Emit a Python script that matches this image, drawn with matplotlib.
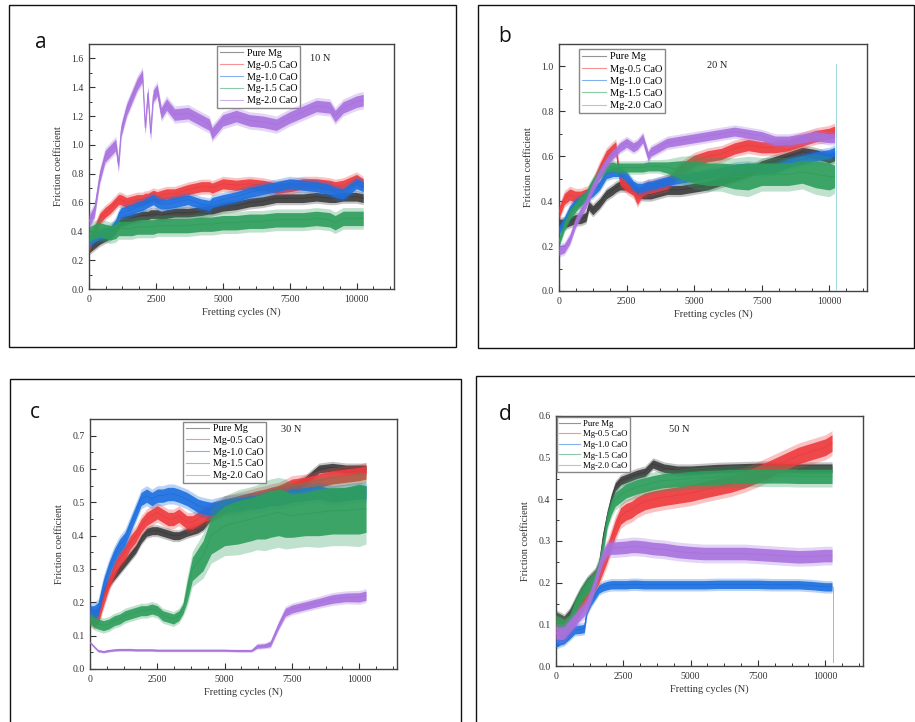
import matplotlib
matplotlib.use("Agg")
import matplotlib.pyplot as plt
import numpy as np
from matplotlib.lines import Line2D
from matplotlib.patches import Rectangle
from matplotlib.ticker import FormatStrFormatter, MultipleLocator

plt.rcParams["font.family"] = ["Liberation Serif", "DejaVu Serif"]

LABELS = ["Pure Mg", "Mg-0.5 CaO", "Mg-1.0 CaO", "Mg-1.5 CaO", "Mg-2.0 CaO"]
COLORS = ["#3c3c3c", "#ee3b3e", "#1d6fe0", "#2f9e5c", "#a872de"]

# ---- (a) 10 N ----
A_X = [0, 200, 400, 600, 800, 1000, 1100, 1200, 1400, 1600, 1800, 2000, 2100, 2200, 2300,
       2400, 2550, 2700, 2900, 3200, 3700, 4200, 4500, 4600, 5000, 5500, 6000, 6500, 7000, 7500,
       8000, 8500, 9000, 9200, 9500, 10000, 10250]
A_PURE = [0.28, 0.31, 0.34, 0.36, 0.38, 0.42, 0.45, 0.47, 0.48, 0.49, 0.50, 0.51, 0.51, 0.51, 0.52,
          0.52, 0.52, 0.51, 0.52, 0.53, 0.53, 0.54, 0.55, 0.55, 0.57, 0.58, 0.60, 0.61, 0.63, 0.63,
          0.63, 0.64, 0.63, 0.63, 0.64, 0.64, 0.63]
A_05 = [0.30, 0.40, 0.49, 0.53, 0.56, 0.60, 0.62, 0.62, 0.60, 0.61, 0.62, 0.62, 0.63, 0.63, 0.64,
        0.65, 0.64, 0.65, 0.66, 0.66, 0.69, 0.71, 0.71, 0.70, 0.73, 0.72, 0.73, 0.72, 0.70, 0.71,
        0.73, 0.73, 0.72, 0.71, 0.72, 0.76, 0.73]
A_10 = [0.33, 0.36, 0.38, 0.39, 0.40, 0.45, 0.50, 0.53, 0.54, 0.55, 0.57, 0.58, 0.59, 0.60, 0.61,
        0.62, 0.60, 0.59, 0.59, 0.60, 0.62, 0.59, 0.58, 0.60, 0.62, 0.64, 0.67, 0.69, 0.71, 0.73,
        0.72, 0.71, 0.69, 0.67, 0.66, 0.73, 0.71]
A_15 = [0.38, 0.40, 0.41, 0.40, 0.39, 0.40, 0.42, 0.42, 0.42, 0.42, 0.43, 0.43, 0.43, 0.43, 0.43,
        0.43, 0.44, 0.44, 0.44, 0.44, 0.44, 0.45, 0.45, 0.45, 0.46, 0.46, 0.47, 0.47, 0.48, 0.48,
        0.48, 0.49, 0.48, 0.46, 0.49, 0.49, 0.49]
A_20 = [0.47, 0.54, 0.78, 0.92, 0.96, 1.00, 0.86, 1.10, 1.24, 1.33, 1.42, 1.48, 1.12, 1.36, 1.08,
        1.34, 1.38, 1.22, 1.28, 1.21, 1.22, 1.17, 1.14, 1.08, 1.17, 1.20, 1.17, 1.16, 1.14, 1.19,
        1.23, 1.27, 1.26, 1.20, 1.26, 1.30, 1.31]
A_SPREAD = [0.03, 0.035, 0.035, 0.05, 0.04]

# ---- (b) 20 N ----
B_X = [0, 200, 400, 600, 800, 1000, 1100, 1250, 1500, 1750, 2000, 2100, 2250, 2500, 2750,
       2900, 3100, 3300, 3400, 3700, 4000, 4500, 5000, 5500, 6000, 6500, 7000, 7500, 8000, 8500,
       9000, 9500, 10000, 10200]
B_PURE = [0.30, 0.30, 0.31, 0.32, 0.32, 0.33, 0.38, 0.36, 0.39, 0.43, 0.45, 0.46, 0.47, 0.47, 0.46,
          0.44, 0.43, 0.43, 0.43, 0.44, 0.45, 0.45, 0.46, 0.47, 0.49, 0.51, 0.53, 0.56, 0.58, 0.60,
          0.62, 0.61, 0.59, 0.60]
B_05 = [0.35, 0.41, 0.43, 0.42, 0.42, 0.43, 0.43, 0.47, 0.54, 0.60, 0.63, 0.64, 0.50, 0.47, 0.45,
        0.41, 0.45, 0.46, 0.46, 0.47, 0.48, 0.54, 0.58, 0.60, 0.61, 0.635, 0.65, 0.64, 0.64, 0.65,
        0.67, 0.69, 0.70, 0.71]
B_10 = [0.27, 0.31, 0.36, 0.39, 0.40, 0.42, 0.43, 0.44, 0.47, 0.52, 0.53, 0.53, 0.53, 0.51, 0.47,
        0.46, 0.46, 0.47, 0.47, 0.48, 0.49, 0.50, 0.51, 0.52, 0.53, 0.545, 0.55, 0.54, 0.545, 0.57,
        0.585, 0.60, 0.61, 0.62]
B_15 = [0.22, 0.29, 0.34, 0.37, 0.40, 0.42, 0.45, 0.48, 0.52, 0.55, 0.555, 0.55, 0.55, 0.55, 0.55,
        0.55, 0.55, 0.555, 0.555, 0.555, 0.55, 0.54, 0.53, 0.52, 0.52, 0.51, 0.51, 0.52, 0.52, 0.52,
        0.53, 0.52, 0.51, 0.51]
B_20 = [0.18, 0.19, 0.23, 0.30, 0.35, 0.39, 0.42, 0.46, 0.52, 0.57, 0.61, 0.62, 0.64, 0.66, 0.64,
        0.65, 0.68, 0.60, 0.62, 0.64, 0.66, 0.67, 0.68, 0.69, 0.70, 0.71, 0.70, 0.69, 0.67, 0.67,
        0.68, 0.69, 0.68, 0.68]
B_15_SPREAD = [0.02] * 20 + [0.025, 0.04, 0.05, 0.05, 0.05, 0.055, 0.06, 0.05, 0.05, 0.05,
                             0.05, 0.06, 0.06, 0.05]
B_SPREAD = [0.02, 0.025, 0.02, B_15_SPREAD, 0.02]
B_TAIL_X = [10250, 10250]
B_TAIL_Y = [0.0, 1.01]

# ---- (c) 30 N ----
C_X = [0, 150, 300, 500, 700, 900, 1100, 1300, 1500, 1700, 1900, 2100, 2300, 2500, 2700,
       2900, 3100, 3300, 3450, 3600, 3800, 4000, 4200, 4500, 5000, 5500, 6000, 6200, 6500, 6700,
       7000, 7250, 7500, 8000, 8500, 9000, 9500, 10000, 10250]
C_PURE = [0.17, 0.165, 0.17, 0.23, 0.26, 0.28, 0.30, 0.32, 0.34, 0.36, 0.39, 0.41, 0.415, 0.415, 0.41,
          0.405, 0.40, 0.40, 0.405, 0.41, 0.415, 0.42, 0.43, 0.46, 0.485, 0.50, 0.51, 0.51, 0.52, 0.525,
          0.535, 0.54, 0.545, 0.565, 0.60, 0.605, 0.60, 0.60, 0.60]
C_05 = [0.16, 0.15, 0.155, 0.21, 0.26, 0.30, 0.33, 0.35, 0.38, 0.40, 0.43, 0.45, 0.46, 0.47, 0.46,
        0.45, 0.45, 0.46, 0.45, 0.44, 0.44, 0.45, 0.46, 0.47, 0.49, 0.50, 0.51, 0.515, 0.52, 0.525,
        0.53, 0.54, 0.55, 0.555, 0.565, 0.575, 0.58, 0.585, 0.59]
C_10 = [0.17, 0.17, 0.18, 0.25, 0.30, 0.34, 0.37, 0.39, 0.43, 0.47, 0.51, 0.52, 0.51, 0.52, 0.52,
        0.525, 0.525, 0.52, 0.515, 0.51, 0.50, 0.49, 0.485, 0.48, 0.49, 0.495, 0.50, 0.50, 0.505, 0.51,
        0.51, 0.515, 0.52, 0.525, 0.53, 0.52, 0.525, 0.53, 0.53]
C_15 = [0.15, 0.14, 0.135, 0.13, 0.135, 0.145, 0.15, 0.16, 0.165, 0.17, 0.175, 0.175, 0.18, 0.175, 0.16,
        0.155, 0.15, 0.16, 0.18, 0.23, 0.30, 0.32, 0.34, 0.40, 0.43, 0.44, 0.45, 0.455, 0.46, 0.465,
        0.47, 0.465, 0.46, 0.465, 0.47, 0.475, 0.475, 0.48, 0.48]
C_20 = [0.08, 0.067, 0.055, 0.052, 0.055, 0.057, 0.058, 0.058, 0.058, 0.057, 0.057, 0.057, 0.057, 0.056, 0.056,
        0.056, 0.056, 0.056, 0.056, 0.056, 0.056, 0.056, 0.056, 0.056, 0.056, 0.055, 0.055, 0.068, 0.07, 0.075,
        0.13, 0.17, 0.18, 0.19, 0.20, 0.21, 0.215, 0.215, 0.22]
C_15_SPREAD = [0.015] * 19 + [0.03, 0.035, 0.04, 0.045, 0.055, 0.06, 0.065, 0.065, 0.065, 0.07, 0.07,
                              0.07, 0.07, 0.065, 0.065, 0.07, 0.07, 0.07, 0.075, 0.07]
C_20_SPREAD = [0.003] * 27 + [0.006, 0.006, 0.008, 0.01, 0.012, 0.012, 0.012, 0.012,
                              0.013, 0.013, 0.014, 0.014]
C_SPREAD = [0.012, 0.02, 0.02, C_15_SPREAD, C_20_SPREAD]

# ---- (d) 50 N ----
D_X = [0, 150, 300, 500, 700, 900, 1050, 1150, 1300, 1450, 1600, 1750, 1900, 2050, 2200,
       2400, 2600, 2800, 3000, 3300, 3600, 4000, 4500, 5000, 5500, 6000, 6500, 7000, 7500, 8000,
       8500, 9000, 9500, 10000, 10250]
D_PURE = [0.12, 0.115, 0.11, 0.125, 0.15, 0.175, 0.19, 0.20, 0.21, 0.22, 0.24, 0.31, 0.36, 0.40, 0.43,
          0.445, 0.45, 0.455, 0.46, 0.465, 0.485, 0.475, 0.47, 0.47, 0.472, 0.474, 0.475, 0.476, 0.477, 0.477,
          0.476, 0.475, 0.475, 0.475, 0.475]
D_05 = [0.095, 0.09, 0.087, 0.093, 0.12, 0.145, 0.16, 0.175, 0.19, 0.20, 0.22, 0.245, 0.27, 0.30, 0.33,
        0.36, 0.37, 0.375, 0.385, 0.395, 0.40, 0.405, 0.41, 0.415, 0.423, 0.43, 0.437, 0.447, 0.46, 0.475,
        0.49, 0.505, 0.515, 0.525, 0.535]
D_10 = [0.055, 0.06, 0.063, 0.075, 0.087, 0.088, 0.09, 0.135, 0.155, 0.17, 0.185, 0.19, 0.193, 0.195, 0.195,
        0.195, 0.195, 0.196, 0.196, 0.195, 0.195, 0.195, 0.195, 0.195, 0.195, 0.196, 0.196, 0.196, 0.196, 0.195,
        0.195, 0.195, 0.193, 0.19, 0.19]
D_15 = [0.105, 0.10, 0.095, 0.105, 0.14, 0.165, 0.18, 0.19, 0.20, 0.21, 0.24, 0.29, 0.35, 0.38, 0.40,
        0.41, 0.42, 0.425, 0.43, 0.435, 0.44, 0.445, 0.447, 0.45, 0.452, 0.453, 0.455, 0.455, 0.456, 0.456,
        0.456, 0.455, 0.455, 0.455, 0.455]
D_20 = [0.08, 0.078, 0.08, 0.095, 0.11, 0.125, 0.135, 0.145, 0.17, 0.20, 0.235, 0.265, 0.28, 0.283, 0.283,
        0.284, 0.285, 0.287, 0.287, 0.285, 0.282, 0.28, 0.275, 0.272, 0.27, 0.27, 0.27, 0.27, 0.268, 0.266,
        0.264, 0.262, 0.263, 0.265, 0.265]
D_SPREAD = [0.01, 0.02, 0.01, 0.017, 0.015]
D_TAIL_X = [10280, 10280]
D_TAIL_Y = [0.19, 0.01]

W, H = 915, 722


def px_rect(left, top, right, bottom):
    # figure-fraction box from pixel edges
    return [left / W, 1 - bottom / H, (right - left) / W, (bottom - top) / H]


def draw_panel(ax, x, series, spreads, ymax, ymajor, load, load_pos, leg_anchor, leg_size):
    x = np.asarray(x, dtype=float)
    for i, (mid, spr) in enumerate(zip(series, spreads)):
        mid = np.asarray(mid, dtype=float)
        spr = np.broadcast_to(np.asarray(spr, dtype=float), mid.shape)
        c = COLORS[i]
        ax.fill_between(x, mid - 1.5 * spr, mid + 1.5 * spr, color=c, lw=0, alpha=0.3, zorder=2 + i)
        ax.fill_between(x, mid - spr, mid + spr, color=c, lw=0, alpha=0.9, zorder=2 + i)
        ax.plot(x, mid, color=c, lw=0.6, zorder=2 + i)

    ax.set_xlim(0, 11400)
    ax.set_ylim(0, ymax)
    ax.xaxis.set_major_locator(MultipleLocator(2500))
    ax.xaxis.set_minor_locator(MultipleLocator(625))
    ax.yaxis.set_major_locator(MultipleLocator(ymajor))
    ax.yaxis.set_minor_locator(MultipleLocator(ymajor / 2))
    ax.yaxis.set_major_formatter(FormatStrFormatter("%.1f"))
    ax.tick_params(which="both", direction="in", top=False, right=False, labelsize=7,
                   colors="#333333", pad=4)
    ax.tick_params(which="major", length=4, width=0.8)
    ax.tick_params(which="minor", length=2.5, width=0.7)
    for sp in ax.spines.values():
        sp.set_color("#444444")
        sp.set_linewidth(1.0)
    ax.set_xlabel("Fretting cycles (N)", fontsize=7.5, color="#333333", labelpad=3)
    ax.set_ylabel("Friction coefficient", fontsize=7.5, color="#333333", labelpad=6)
    ax.text(load_pos[0], load_pos[1], load, transform=ax.transAxes, fontsize=7.5,
            ha="center", va="center", color="#222222")

    handles = [Line2D([], [], color=c, lw=0.8, alpha=0.55) for c in COLORS]
    ax.legend(handles, LABELS, loc="upper left", bbox_to_anchor=leg_anchor, fontsize=leg_size,
              frameon=True, fancybox=False, edgecolor="#888888", framealpha=1, borderpad=0.25,
              labelspacing=0.28, handlelength=2.3, handletextpad=0.4, borderaxespad=0)


fig = plt.figure(figsize=(W / 100, H / 100), dpi=100)

# outer panel frames
for left, top, right, bottom in [(9, 5, 456, 347), (478, 5, 914, 348),
                                 (10, 379, 461, 726), (476, 376, 916, 726)]:
    fig.add_artist(Rectangle((left / W, 1 - bottom / H), (right - left) / W, (bottom - top) / H,
                             transform=fig.transFigure, fill=False, edgecolor="#111111", lw=1.0))

ax_a = fig.add_axes(px_rect(89, 44, 394, 289))
draw_panel(ax_a, A_X, [A_PURE, A_05, A_10, A_15, A_20], A_SPREAD, 1.70, 0.2,
           "10 N", (0.757, 0.939), (0.42, 0.99), 7.2)

ax_b = fig.add_axes(px_rect(559, 44, 867, 291))
draw_panel(ax_b, B_X, [B_PURE, B_05, B_10, B_15, B_20], B_SPREAD, 1.10, 0.2,
           "20 N", (0.513, 0.911), (0.065, 0.978), 7.5)
ax_b.plot(B_TAIL_X, B_TAIL_Y, color="#9fd6dc", lw=0.7, zorder=8)

ax_c = fig.add_axes(px_rect(90, 419, 397, 669))
draw_panel(ax_c, C_X, [C_PURE, C_05, C_10, C_15, C_20], C_SPREAD, 0.75, 0.1,
           "30 N", (0.655, 0.96), (0.303, 0.99), 7.2)

ax_d = fig.add_axes(px_rect(556, 416, 863, 666))
draw_panel(ax_d, D_X, [D_PURE, D_05, D_10, D_15, D_20], D_SPREAD, 0.60, 0.1,
           "50 N", (0.40, 0.944), (0.004, 0.994), 6.3)
ax_d.plot(D_TAIL_X, D_TAIL_Y, color="#8fb8ee", lw=0.7, zorder=8)

for letter, px, py in [("a", 41, 43), ("b", 505, 37), ("c", 35, 412), ("d", 505, 414)]:
    fig.text(px / W, 1 - py / H, letter, fontsize=15, family=["Open Sans", "DejaVu Sans"],
             ha="center", va="center", color="#111111")

fig.savefig("out.png", dpi=100, facecolor="white")
